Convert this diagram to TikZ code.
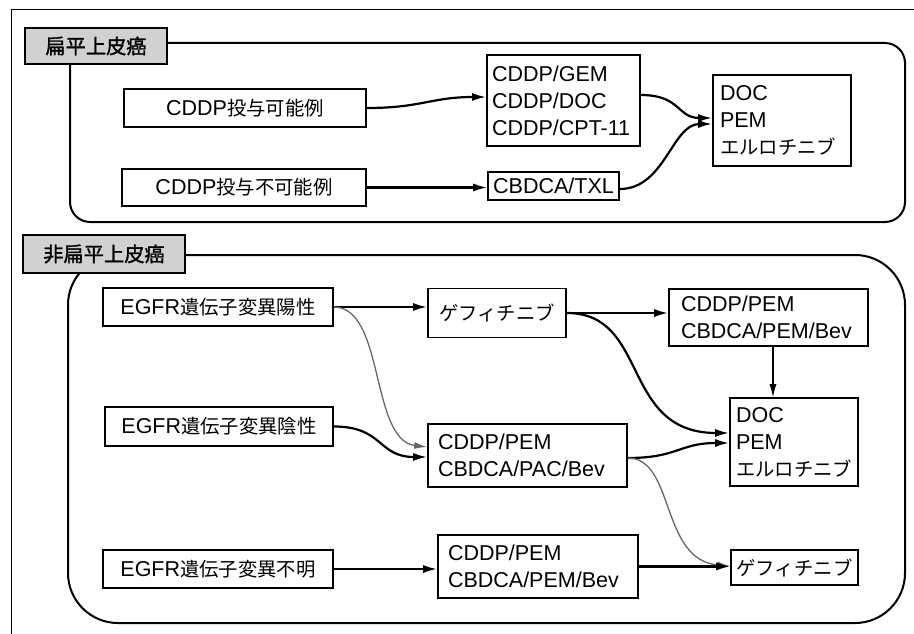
\documentclass[tikz,border=0pt]{standalone}
\usepackage{fontspec}
\setmainfont{Liberation Sans}
\newfontfamily\jpf{Noto Sans CJK JP}[Scale=0.9]
\newfontfamily\jpbf{Noto Sans CJK JP}[Scale=0.9,FakeBold=1.5]
\newcommand\jt[1]{{\jpf #1}}
\usetikzlibrary{arrows.meta}
\begin{document}
\begin{tikzpicture}[x=1pt,y=-1pt,
  box/.style={draw, line width=1.6pt, inner sep=0pt, font=\fontsize{21.5}{27}\selectfont, align=center},
  lbox/.style={box, align=left},
  lab/.style={draw, line width=2.4pt, fill=black!18, inner sep=0pt, font=\jpbf\fontsize{22.5}{27}\selectfont},
  arr/.style={line width=2.2pt, -{Latex[length=14pt,width=8pt]}},
  garr/.style={line width=1.3pt, black!60, -{Latex[length=13pt,width=7pt]}},
  thinarr/.style={line width=1.1pt, -{Latex[length=13pt,width=7pt]}},
  frame/.style={line width=2pt}
]
\useasboundingbox (0,0) rectangle (914,634);
% outer frame
\draw[line width=1pt] (11,634) -- (11,10) -- (914,10);
% section frames
\draw[frame, rounded corners=20pt] (70,43) rectangle (905,222);
\draw[frame, rounded corners=50pt] (68,255) rectangle (905,623);
% labels
\node[lab, minimum width=142pt, minimum height=36pt] (L1) at (96,46) {扁平上皮癌};
\node[lab, minimum width=162pt, minimum height=38pt] (L2) at (104,254) {非扁平上皮癌};

% section 1 nodes
\node[box, minimum width=242pt, minimum height=38pt] (a1) at (245,108) {CDDP\jt{投与可能例}};
\node[box, minimum width=244pt, minimum height=37pt] (a2) at (244,187.5) {CDDP\jt{投与不可能例}};
\node[lbox, text width=143pt, inner xsep=5pt, minimum height=91pt] (b1) at (563.5,100.5) {CDDP/GEM\\CDDP/DOC\\CDDP/CPT-11};
\node[box, minimum width=131pt, minimum height=28pt] (b2) at (553.5,186) {CBDCA/TXL};
\node[lbox, text width=124pt, inner xsep=7pt, minimum height=91pt] (c1) at (782,120.5) {DOC\\PEM\\\jt{エルロチニブ}};

% section 2 nodes
\node[box, minimum width=230pt, minimum height=38pt] (d1) at (218,307) {EGFR\jt{遺伝子変異陽性}};
\node[box, minimum width=228pt, minimum height=39pt] (d2) at (219,426.5) {EGFR\jt{遺伝子変異陰性}};
\node[box, minimum width=230pt, minimum height=38pt] (d3) at (218,569) {EGFR\jt{遺伝子変異不明}};
\node[box, minimum width=138pt, minimum height=49pt] (e1) at (497,313) {\jt{ゲフィチニブ}};
\node[lbox, text width=175pt, inner xsep=12pt, minimum height=57pt] (f1) at (768.5,317.5) {CDDP/PEM\\CBDCA/PEM/Bev};
\node[lbox, text width=116pt, inner xsep=6pt, minimum height=88pt] (g1) at (794,442) {DOC\\PEM\\\jt{エルロチニブ}};
\node[lbox, text width=179pt, inner xsep=10pt, minimum height=63pt] (e2) at (527.5,455.5) {CDDP/PEM\\CBDCA/PAC/Bev};
\node[lbox, text width=180pt, inner xsep=10pt, minimum height=63pt] (e3) at (538,566.5) {CDDP/PEM\\CBDCA/PEM/Bev};
\node[box, minimum width=127pt, minimum height=35pt] (g2) at (794.5,567.5) {\jt{ゲフィチニブ}};

% section 1 arrows
\draw[arr] (a1.east) .. controls +(55,0) and +(-55,0) .. ([yshift=3.5pt]b1.west);
\draw[arr] (a2.east) -- (a2.east -| b2.west);
\draw[arr] ([yshift=5.5pt]b1.east) .. controls +(40,0) and +(-35,0) .. ([yshift=2.5pt]c1.west);
\draw[arr] ([yshift=-3pt]b2.east) .. controls +(45,0) and +(-40,0) .. ([yshift=-3.5pt]c1.west);

% section 2 arrows
\draw[arr] (d1.east) -- (d1.east -| e1.west);
\draw[garr] (d1.east) .. controls (385,307) and (370,440) .. ([yshift=8.5pt]e2.west);
\draw[arr] (d2.east) .. controls +(50,0) and +(-50,0) .. ([yshift=-1.5pt]e2.west);
\draw[arr] (e1.east) -- (e1.east -| f1.west);
\draw[arr] (e1.east) .. controls (650,313) and (620,433) .. ([yshift=9pt]g1.west);
\draw[thinarr] ([xshift=4.5pt]f1.south) -- ([xshift=4.5pt]f1.south |- g1.north);
\draw[arr] ([yshift=-2.5pt]e2.east) .. controls +(50,0) and +(-50,0) .. ([yshift=-1pt]g1.west);
\draw[garr] ([yshift=-2.5pt]e2.east) .. controls (675,458) and (660,560) .. ([yshift=1.5pt]g2.west);
\draw[arr] (d3.east) -- (d3.east -| e3.west);
\draw[arr] (e3.east) -- (e3.east -| g2.west);
\end{tikzpicture}
\end{document}
